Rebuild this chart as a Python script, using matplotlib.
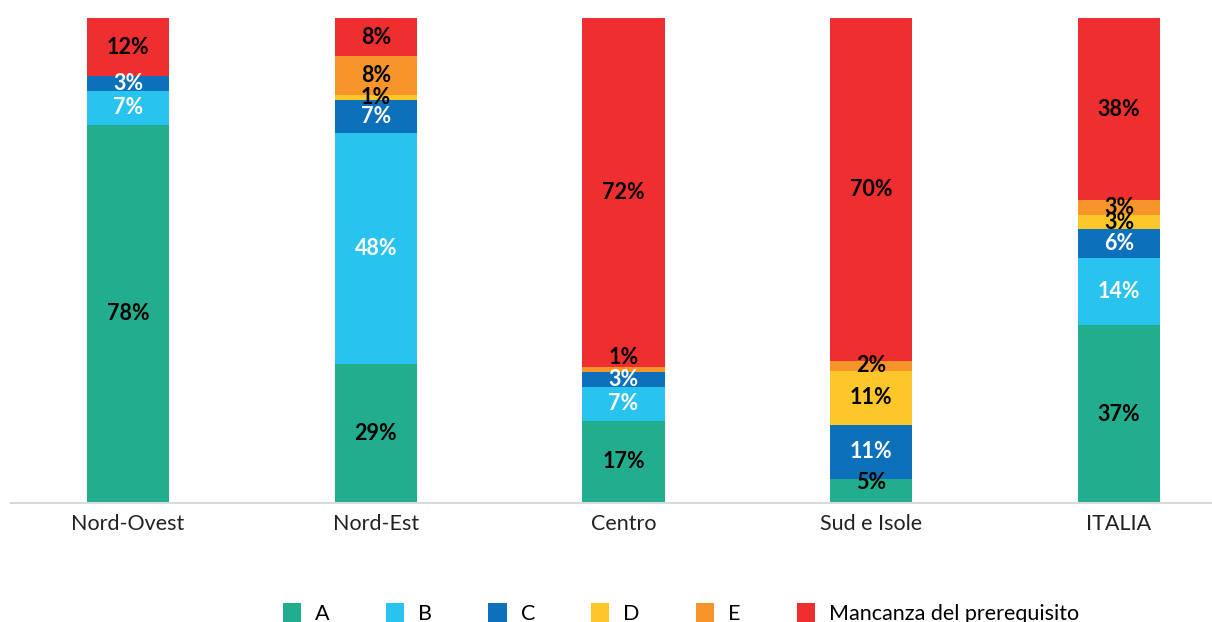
import matplotlib
matplotlib.use("Agg")
import matplotlib.pyplot as plt
from matplotlib.patches import Patch
import numpy as np

plt.rcParams['font.family'] = ['Lato', 'DejaVu Sans']

regions = ["Nord-Ovest", "Nord-Est", "Centro", "Sud e Isole", "ITALIA"]
series_names = ["A", "B", "C", "D", "E", "Mancanza del prerequisito"]
A = [78, 29, 17, 5, 37]
B = [7, 48, 7, 0, 14]
C = [3, 7, 3, 11, 6]
D = [0, 1, 0, 11, 3]
E = [0, 8, 1, 2, 3]
M = [12, 8, 72, 70, 38]

colors = ["#22ad8f", "#29c3f0", "#0d70ba", "#fdc72a", "#f7952a", "#ee2e2f"]
text_colors = ["black", "white", "white", "black", "black", "black"]

data = np.array([A, B, C, D, E, M], dtype=float)
totals = data.sum(axis=0)
heights = data / totals * 100

fig = plt.figure(figsize=(12.12, 6.22), dpi=100)
ax = fig.add_axes([11/1212, (622-503)/622, (1212-11)/1212, 485/622])

x = np.arange(len(regions))
width = 0.331
bottom = np.zeros(len(regions))
# small vertical nudges (in points) for thin segments
nudges = {(4, 2): 9, (0, 3): 6}
for i, name in enumerate(series_names):
    ax.bar(x, heights[i], width, bottom=bottom, color=colors[i], label=name, linewidth=0)
    for j in range(len(regions)):
        v = data[i, j]
        if v > 0:
            yc = bottom[j] + heights[i, j] / 2
            dy = nudges.get((i, j), 0)
            ax.annotate(f"{int(v)}%", (x[j], yc), xytext=(0, dy), textcoords="offset points",
                        ha="center", va="center", fontsize=15.5, fontweight="bold",
                        color=text_colors[i])
    bottom += heights[i]

ax.set_xlim((11-128)/247.75, (1212-128)/247.75)
ax.set_ylim(0, 100)
for s in ["top", "right", "left"]:
    ax.spines[s].set_visible(False)
ax.spines["bottom"].set_color("#d9d9d9")
ax.spines["bottom"].set_linewidth(1.5)
ax.set_yticks([])
ax.set_xticks(x)
ax.set_xticklabels(regions, fontsize=15.5, color="#222222")
ax.tick_params(axis="x", length=0, pad=8)

handles = [Patch(facecolor=c, edgecolor="none") for c in colors]
fig.legend(handles, series_names, loc="center", bbox_to_anchor=(0.562, 0.014), ncol=6,
           frameon=False, fontsize=15.5, handlelength=0.84, handleheight=1.05,
           handletextpad=0.65, columnspacing=2.62)

fig.savefig("out.png", dpi=100)
